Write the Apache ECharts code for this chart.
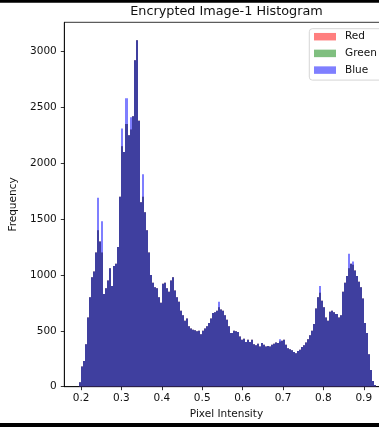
<!DOCTYPE html>
<html>
<head>
<meta charset="utf-8">
<script src="https://cdn.jsdelivr.net/npm/echarts@6/dist/echarts.min.js"></script>
<style>
  html, body { margin: 0; padding: 0; background: #ffffff; }
  #chart { width: 379px; height: 427px; }
</style>
</head>
<body>
<div id="chart"></div>
<script>
// ---- data ----
const chartTitle = 'Encrypted Image-1 Histogram';
const xAxisName = 'Pixel Intensity';
const yAxisName = 'Frequency';
const seriesNames = ['Red', 'Green', 'Blue'];
const BIN_START = 0.195;   // left edge of first bin
const BIN_WIDTH = 0.005;   // bin width in pixel intensity
const xTicks = [0.2, 0.3, 0.4, 0.5, 0.6, 0.7, 0.8, 0.9];
const yTicks = [0, 500, 1000, 1500, 2000, 2500, 3000];

const blueValues = [
  40, 180, 230, 380, 620, 800, 980, 1030, 1200, 1690,
  1300, 1480, 830, 880, 950, 1060, 900, 1080, 1100, 1250,
  1700, 2310, 2100, 2580, 2250, 2410, 2420, 2920, 3100, 2380,
  1650, 1900, 1560, 1400, 1200, 1000, 930, 890, 880, 800,
  750, 920, 930, 880, 850, 950, 980, 860, 800, 760,
  680, 640, 590, 610, 540, 520, 510, 505, 495, 500,
  470, 500, 520, 540, 570, 610, 660, 665, 680, 760,
  690, 680, 640, 600, 540, 480, 500, 495, 490, 450,
  420, 430, 400, 420, 400, 420, 380, 370, 385, 360,
  390, 375, 360, 365, 360, 375, 385, 395, 390, 425,
  410, 420, 375, 345, 335, 325, 310, 300, 320, 330,
  355, 370, 395, 425, 460, 500, 560, 700, 800, 900,
  770, 710, 620, 590, 670, 680, 665, 650, 620, 640,
  850, 930, 990, 1190, 1100, 1120, 1040, 990, 940, 890,
  790, 570, 480, 290, 150, 50, 15
];
const redValues = [
  40, 180, 230, 380, 620, 800, 980, 1030, 1200, 1400,
  1300, 1200, 830, 880, 950, 1060, 900, 1080, 1100, 1250,
  1700, 2150, 2100, 2350, 2250, 2300, 2420, 2920, 3100, 2380,
  1650, 1700, 1560, 1400, 1200, 1000, 930, 890, 880, 800,
  750, 920, 930, 880, 850, 950, 980, 860, 800, 760,
  680, 640, 590, 610, 540, 520, 510, 505, 495, 500,
  470, 500, 520, 540, 570, 610, 660, 665, 680, 710,
  690, 680, 640, 600, 540, 480, 500, 495, 490, 450,
  420, 430, 400, 420, 400, 420, 380, 370, 385, 360,
  390, 375, 360, 365, 360, 375, 385, 395, 390, 405,
  410, 420, 375, 345, 335, 325, 310, 300, 320, 330,
  355, 370, 395, 425, 460, 500, 560, 700, 800, 840,
  770, 710, 620, 590, 670, 680, 665, 650, 620, 640,
  850, 930, 990, 1060, 1100, 1090, 1040, 990, 940, 890,
  790, 570, 480, 290, 150, 50, 15
];
const greenValues = [
  40, 180, 230, 380, 620, 800, 980, 1030, 1200, 1400,
  1300, 1200, 830, 880, 950, 1060, 900, 1080, 1100, 1250,
  1700, 2150, 2100, 2350, 2250, 2300, 2420, 2920, 3100, 2380,
  1650, 1700, 1560, 1400, 1200, 1000, 930, 890, 880, 800,
  750, 920, 930, 880, 850, 950, 980, 860, 800, 760,
  680, 640, 590, 610, 540, 520, 510, 505, 495, 500,
  470, 500, 520, 540, 570, 610, 660, 665, 680, 710,
  690, 680, 640, 600, 540, 480, 500, 495, 490, 450,
  420, 430, 400, 420, 400, 420, 380, 370, 385, 360,
  390, 375, 360, 365, 360, 375, 385, 395, 390, 405,
  410, 420, 375, 345, 335, 325, 310, 300, 320, 330,
  355, 370, 395, 425, 460, 500, 560, 700, 800, 840,
  770, 710, 620, 590, 670, 680, 665, 650, 620, 640,
  850, 930, 990, 1060, 1100, 1090, 1040, 990, 940, 890,
  790, 570, 480, 290, 150, 50, 15
];

// ---- build ----
const FONT = 'DejaVu Sans';
const seriesColors = ['rgba(255,0,0,0.5)', 'rgba(0,128,0,0.5)', 'rgba(0,0,255,0.5)'];
const allValues = [redValues, greenValues, blueValues];

function histItems(vals) {
  return vals.map((v, i) => [BIN_START + i * BIN_WIDTH, BIN_START + (i + 1) * BIN_WIDTH, v]);
}

function renderBin(params, api) {
  const base = api.coord([api.value(0), 0]);
  const top = api.coord([api.value(1), api.value(2)]);
  const xL = Math.round(base[0]);
  const xR = Math.round(top[0]);
  return {
    type: 'rect',
    shape: { x: xL, y: top[1], width: xR - xL, height: base[1] - top[1] },
    style: { fill: api.visual('color') }
  };
}

const chart = echarts.init(document.getElementById('chart'), null, { renderer: 'canvas' });

const option = {
  animation: false,
  backgroundColor: '#ffffff',
  grid: {
    left: 64.3, top: 22.3, width: 324.3, height: 364.4,
    outerBoundsMode: 'none', containLabel: false,
    show: true, borderColor: '#000000', borderWidth: 0.8, backgroundColor: 'transparent'
  },
  legend: {
    orient: 'vertical',
    left: 309.3, top: 28.7,
    padding: [2, 6, 4, 4.7],
    itemWidth: 22, itemHeight: 7.5, itemGap: 4.7,
    icon: 'rect',
    backgroundColor: 'rgba(255,255,255,0.8)',
    borderColor: '#cccccc', borderWidth: 0.8, borderRadius: 3,
    textStyle: { fontFamily: FONT, fontSize: 10.5, color: '#111111', lineHeight: 12, padding: [0, 0, 0, 4] },
    data: seriesNames
  },
  xAxis: {
    type: 'value',
    min: 0.1585, max: 0.9615,
    name: xAxisName, nameLocation: 'middle', nameGap: 22,
    nameTextStyle: { fontFamily: FONT, fontSize: 10.5, color: '#111111' },
    axisLine: { show: true, lineStyle: { color: '#000000', width: 0.8 } },
    axisTick: { show: true, inside: false, length: 3.5, lineStyle: { color: '#000000', width: 0.8 }, customValues: xTicks },
    axisLabel: { fontFamily: FONT, fontSize: 10.5, color: '#111111', margin: 6.5,
      customValues: xTicks, formatter: v => v.toFixed(1) },
    splitLine: { show: false }
  },
  yAxis: {
    type: 'value',
    min: 0, max: 3260,
    name: yAxisName, nameLocation: 'middle', nameGap: 42,
    nameTextStyle: { fontFamily: FONT, fontSize: 10.5, color: '#111111' },
    axisLine: { show: true, lineStyle: { color: '#000000', width: 0.8 } },
    axisTick: { show: true, inside: false, length: 3.5, lineStyle: { color: '#000000', width: 0.8 }, customValues: yTicks },
    axisLabel: { fontFamily: FONT, fontSize: 10.5, color: '#111111', margin: 7.5,
      customValues: yTicks, formatter: v => String(v) },
    splitLine: { show: false }
  },
  series: seriesNames.map((name, k) => ({
    name: name,
    type: 'custom',
    renderItem: renderBin,
    encode: { x: [0, 1], y: 2 },
    data: histItems(allValues[k]),
    itemStyle: { color: seriesColors[k] },
    clip: true,
    silent: true
  })),
  graphic: [
    { type: 'text', x: 226.5, y: 12,
      style: { text: chartTitle, fontFamily: FONT, fontSize: 12.8, fill: '#111111',
               textAlign: 'center', textVerticalAlign: 'middle' } },
    { type: 'rect', shape: { x: 0, y: 0, width: 379, height: 2.7 }, style: { fill: '#000000' } },
    { type: 'rect', shape: { x: 0, y: 423, width: 379, height: 4 }, style: { fill: '#000000' } }
  ]
};
chart.setOption(option);
</script>
</body>
</html>
